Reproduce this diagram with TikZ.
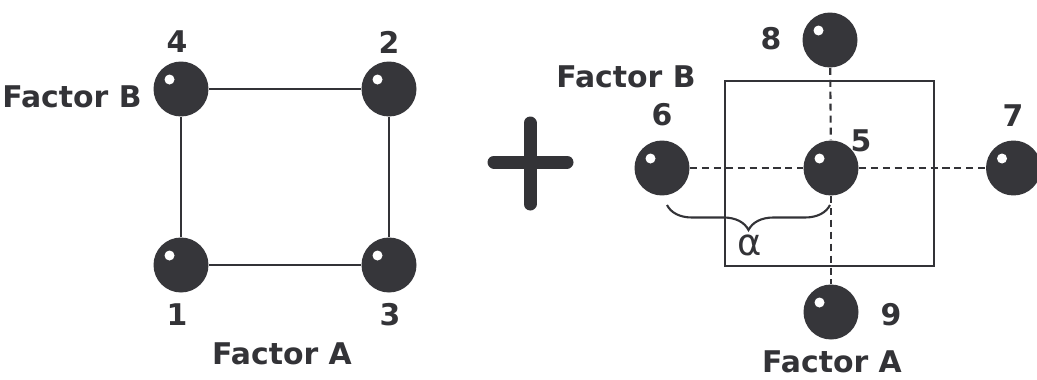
\documentclass[tikz,border=0pt]{standalone}
\usepackage{fontspec}
\setmainfont{DejaVu Sans}
\usetikzlibrary{positioning, calc, decorations.pathreplacing}
\definecolor{ballgray}{RGB}{54,54,58}
\definecolor{inkgray}{RGB}{51,51,55}
\tikzset{>=stealth,
	ball/.style={circle, fill=ballgray, inner sep=0pt, minimum size=1.1cm,
		path picture={\fill[white] ($(path picture bounding box.center)+(-0.23cm,0.19cm)$) circle [radius=0.1cm];}},
	lbl/.style={inkgray, inner sep=0pt, font=\fontsize{17}{20}\selectfont\bfseries},
	edge/.style={inkgray, line width=1.2pt},
	axisline/.style={inkgray, line width=1.2pt, dash pattern=on 4pt off 2.8pt}}

\begin{document}
\begin{tikzpicture}[x=0.02cm, y=-0.02cm]
	\useasboundingbox (0,0) rectangle (1037,379);

	% two level factorial square
	\node [ball] (b4) at (181,89) {};
	\node [ball] (b2) at (389,89) {};
	\node [ball] (b1) at (181,265) {};
	\node [ball] (b3) at (389,265) {};
	\draw [edge] (b4) -- (b2);
	\draw [edge] (b2) -- (b3);
	\draw [edge] (b3) -- (b1);
	\draw [edge] (b1) -- (b4);

	\node [lbl] (n4) at (177,42) {4};
	\node [lbl] (n2) at (389,42) {2};
	\node [lbl] (n1) at (177,315) {1};
	\node [lbl] (n3) at (390,315) {3};
	\node [lbl] (fB1) at (72,97) {Factor B};
	\node [lbl] (fA1) at (282,354) {Factor A};

	% plus sign
	\draw [inkgray, line width=7.4pt, line cap=round] (494,162) -- (567,162);
	\draw [inkgray, line width=7.4pt, line cap=round] (530,123) -- (530,204);

	% star points and centre point
	\draw [edge] (725,81) rectangle (934,266);
	\node [ball] (b5) at (831,168) {};
	\node [ball] (b6) at (662,168) {};
	\node [ball] (b7) at (1013.5,168) {};
	\node [ball] (b8) at (830,40) {};
	\node [ball] (b9) at (831,312) {};
	\draw [axisline] (b6) -- (b5);
	\draw [axisline] (b5) -- (b7);
	\draw [axisline] (b8) -- (b5);
	\draw [axisline] (b5) -- (b9);

	\node [lbl] (n8) at (771,39) {8};
	\node [lbl] (n6) at (662,115) {6};
	\node [lbl] (n5) at (861,141) {5};
	\node [lbl] (n7) at (1013,116) {7};
	\node [lbl] (n9) at (891,315) {9};
	\node [lbl] (fB2) at (626,77) {Factor B};
	\node [lbl] (fA2) at (832,362) {Factor A};

	% distance of the star points
	\coordinate (braceL) at (667,205);
	\coordinate (braceR) at (830,205);
	\draw [inkgray, line width=1.2pt, decorate, decoration={brace, amplitude=0.5cm}] (braceR) -- (braceL);
	\node [inkgray, font=\fontsize{21}{24}\selectfont] (alpha) at (750,245) {α};

\end{tikzpicture}
\end{document}
